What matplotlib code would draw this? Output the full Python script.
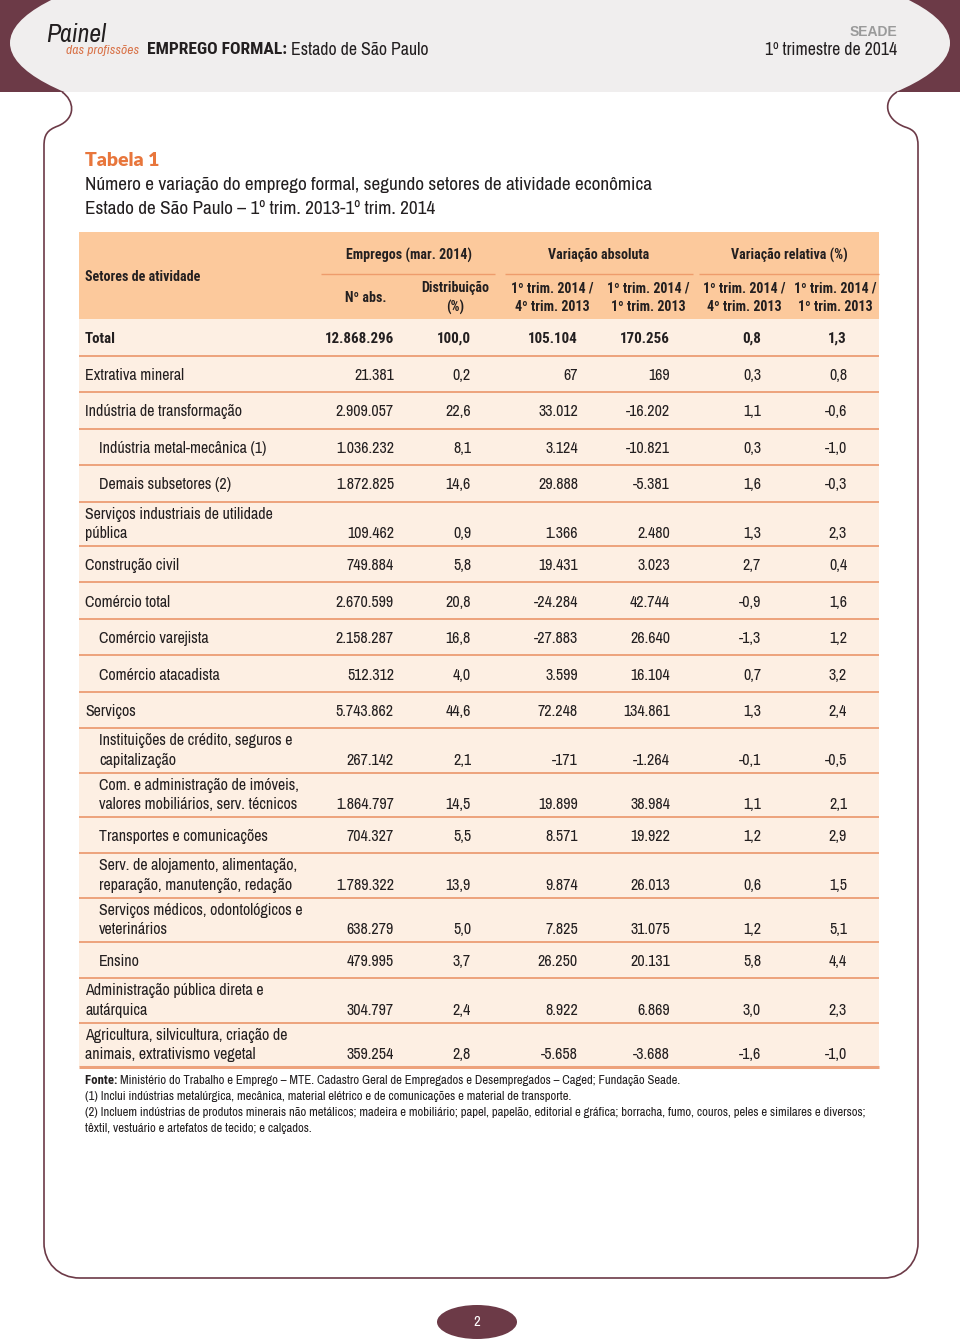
import matplotlib
matplotlib.use('Agg')
import matplotlib.pyplot as plt
from matplotlib.patches import Rectangle, Ellipse, PathPatch
from matplotlib.path import Path

# ---------------- data ----------------
sectors = [
    "Total",
    "Extrativa mineral",
    "Indústria de transformação",
    "Indústria metal-mecânica (1)",
    "Demais subsetores (2)",
    "Serviços industriais de utilidade\npública",
    "Construção civil",
    "Comércio total",
    "Comércio varejista",
    "Comércio atacadista",
    "Serviços",
    "Instituições de crédito, seguros e\ncapitalização",
    "Com. e administração de imóveis,\nvalores mobiliários, serv. técnicos",
    "Transportes e comunicações",
    "Serv. de alojamento, alimentação,\nreparação, manutenção, redação",
    "Serviços médicos, odontológicos e\nveterinários",
    "Ensino",
    "Administração pública direta e\nautárquica",
    "Agricultura, silvicultura, criação de\nanimais, extrativismo vegetal",
]
indent = [0, 0, 0, 1, 1, 0, 0, 0, 1, 1, 0, 1, 1, 1, 1, 1, 1, 0, 0]
n_abs = [12868296, 21381, 2909057, 1036232, 1872825, 109462, 749884, 2670599,
         2158287, 512312, 5743862, 267142, 1864797, 704327, 1789322, 638279,
         479995, 304797, 359254]
dist = [100.0, 0.2, 22.6, 8.1, 14.6, 0.9, 5.8, 20.8, 16.8, 4.0, 44.6, 2.1,
        14.5, 5.5, 13.9, 5.0, 3.7, 2.4, 2.8]
abs_4t = [105104, 67, 33012, 3124, 29888, 1366, 19431, -24284, -27883, 3599,
          72248, -171, 19899, 8571, 9874, 7825, 26250, 8922, -5658]
abs_1t = [170256, 169, -16202, -10821, -5381, 2480, 3023, 42744, 26640, 16104,
          134861, -1264, 38984, 19922, 26013, 31075, 20131, 6869, -3688]
rel_4t = [0.8, 0.3, 1.1, 0.3, 1.6, 1.3, 2.7, -0.9, -1.3, 0.7, 1.3, -0.1, 1.1,
          1.2, 0.6, 1.2, 5.8, 3.0, -1.6]
rel_1t = [1.3, 0.8, -0.6, -1.0, -0.3, 2.3, 0.4, 1.6, 1.2, 3.2, 2.4, -0.5, 2.1,
          2.9, 1.5, 5.1, 4.4, 2.3, -1.0]

group_headers = ["Empregos (mar. 2014)", "Variação absoluta", "Variação relativa (%)"]
sub_headers = ["Nº abs.", "Distribuição\n(%)", "1º trim. 2014 /\n4º trim. 2013",
               "1º trim. 2014 /\n1º trim. 2013", "1º trim. 2014 /\n4º trim. 2013",
               "1º trim. 2014 /\n1º trim. 2013"]
footnotes = [
    "(1) Inclui indústrias metalúrgica, mecânica, material elétrico e de comunicações e material de transporte.",
    "(2) Incluem indústrias de produtos minerais não metálicos; madeira e mobiliário; papel, papelão, editorial e gráfica; borracha, fumo, couros, peles e similares e diversos;",
    "têxtil, vestuário e artefatos de tecido; e calçados.",
]

# ---------------- style ----------------
NARROW = ['Liberation Sans Narrow', 'Archivo Narrow', 'Liberation Sans', 'DejaVu Sans']
NARROW_B = ['Liberation Sans Narrow', 'Roboto Condensed', 'Barlow Semi Condensed',
            'Liberation Sans', 'DejaVu Sans']
MAROON = '#6c3a47'
TXT = '#231f20'
HEAD_BG = '#fcc99c'
BODY_BG = '#fdefe3'
LINE = '#eda27c'
ORANGE = '#e8763c'


def fmt_int(v):
    s = f"{abs(v):,}".replace(",", ".")
    return ("-" if v < 0 else "") + s


def fmt_dec(v):
    return f"{v:.1f}".replace(".", ",")


def txt(ax, x, y, s, size, bold=False, **kw):
    fam = NARROW_B if bold else NARROW
    kw.setdefault('color', TXT)
    kw.setdefault('va', 'center')
    kw.setdefault('ha', 'left')
    return ax.text(x, y, s, fontsize=size, family=fam,
                   weight='bold' if bold else 'normal', **kw)


fig = plt.figure(figsize=(9.6, 13.44), dpi=100)
ax = fig.add_axes([0, 0, 1, 1])
ax.set_xlim(0, 960)
ax.set_ylim(1344, 0)
ax.axis('off')

# ---------------- page header ----------------
band = Rectangle((0, 0), 960, 92, facecolor=MAROON, edgecolor='none', zorder=1)
ax.add_patch(band)
oval = Ellipse((480, 43), 940, 210, facecolor='#f0eeee', edgecolor='none', zorder=2)
ax.add_patch(oval)
oval.set_clip_path(band)

verts = [
    (62, 92),
    (74, 100), (77, 118), (58, 126),
    (47, 130), (44, 135), (44, 146),
    (44, 1243),
    (44, 1262), (58, 1278), (80, 1278),
    (884, 1278),
    (904, 1278), (918, 1262), (918, 1243),
    (918, 146),
    (918, 135), (915, 130), (905, 127),
    (884, 119), (883, 100), (897, 92),
]
codes = [Path.MOVETO,
         Path.CURVE4, Path.CURVE4, Path.CURVE4,
         Path.CURVE4, Path.CURVE4, Path.CURVE4,
         Path.LINETO,
         Path.CURVE4, Path.CURVE4, Path.CURVE4,
         Path.LINETO,
         Path.CURVE4, Path.CURVE4, Path.CURVE4,
         Path.LINETO,
         Path.CURVE4, Path.CURVE4, Path.CURVE4,
         Path.CURVE4, Path.CURVE4, Path.CURVE4]
ax.add_patch(PathPatch(Path(verts, codes), facecolor='none', edgecolor=MAROON,
                       lw=1.2, zorder=3))

ax.text(46, 35, "Painel", fontsize=18.5, style='italic', family=NARROW, color=TXT,
        va='center', ha='left', zorder=5)
ax.text(66, 50, "das profissões", fontsize=9.8, style='italic', family=NARROW,
        color='#d9744a', va='center', ha='left', zorder=5)
t1 = txt(ax, 147, 50, "EMPREGO FORMAL: ", 12.6, bold=True, zorder=5)
fig.canvas.draw()
bb = t1.get_window_extent()
txt(ax, bb.x1, 50, "Estado de São Paulo", 12.8, zorder=5)
ax.text(897, 32, "SEADE", fontsize=10, weight='bold', family=['Liberation Sans', 'DejaVu Sans'],
        color='#9a9a9a', va='center', ha='right', zorder=5)
txt(ax, 897, 50, "1º trimestre de 2014", 12.8, ha='right', zorder=5)

# ---------------- title ----------------
ax.text(85, 161, "Tabela 1", fontsize=14, weight='heavy', family=['Lato', 'DejaVu Sans'],
        color=ORANGE, va='center', ha='left')
txt(ax, 85, 185, "Número e variação do emprego formal, segundo setores de atividade econômica", 13.8)
txt(ax, 85, 209, "Estado de São Paulo – 1º trim. 2013-1º trim. 2014", 13.8)

# ---------------- table ----------------
X0, X1 = 79, 879
HTOP, HBOT = 232, 319
ax.add_patch(Rectangle((X0, HTOP), X1 - X0, HBOT - HTOP, facecolor=HEAD_BG,
                       edgecolor='none', zorder=1))

HFS = 10.1
txt(ax, 85, 277, "Setores de atividade", HFS, bold=True)
group_spans = [(321, 495), (505, 693), (699, 879)]
group_cx = [409, 599, 789]
for name, (a, b), cx in zip(group_headers, group_spans, group_cx):
    txt(ax, cx, 255, name, HFS, bold=True, ha='center')
    ax.plot([a, b], [273.5, 273.5], color='#ee9c6c', lw=1.0, solid_capstyle='butt')

sub_x = [366, 455, 552, 648, 744, 835]
for name, x in zip(sub_headers, sub_x):
    txt(ax, x, 298, name, HFS, bold=True, ha='center', linespacing=1.45)

row_h = [44.3 if "\n" in s else 36.5 for s in sectors]
tops = [HBOT]
for h in row_h:
    tops.append(tops[-1] + h)
BEND = tops[-1]
ax.add_patch(Rectangle((X0, HBOT), X1 - X0, BEND - HBOT, facecolor=BODY_BG,
                       edgecolor='none', zorder=0.5))

num_right = [394, 471, 578, 670, 761, 847]
FS = 11.5
for i, lab in enumerate(sectors):
    top, bot = tops[i], tops[i + 1]
    b = (i == 0)
    fs = 10.8 if b else FS
    lx = 99 if indent[i] else 85
    if "\n" in lab:
        l1, l2 = lab.split("\n")
        txt(ax, lx, top + 12.5, l1, fs, bold=b)
        ny = top + 32
        txt(ax, lx, ny, l2, fs, bold=b)
    else:
        ny = (top + bot) / 2 + 1.5
        txt(ax, lx, ny, lab, fs, bold=b)
    vals = [fmt_int(n_abs[i]), fmt_dec(dist[i]), fmt_int(abs_4t[i]),
            fmt_int(abs_1t[i]), fmt_dec(rel_4t[i]), fmt_dec(rel_1t[i])]
    for v, x in zip(vals, num_right):
        txt(ax, x, ny, v, fs, bold=b, ha='right')
    lw = 2.2 if i == len(sectors) - 1 else 1.4
    ax.plot([X0, X1], [bot, bot], color=LINE, lw=lw, solid_capstyle='butt', zorder=2)

# ---------------- footnotes ----------------
FFS = 9.15
tf = txt(ax, 85, 1080, "Fonte: ", FFS, bold=True)
fig.canvas.draw()
bb = tf.get_window_extent()
txt(ax, bb.x1, 1080, "Ministério do Trabalho e Emprego – MTE. Cadastro Geral de Empregados e "
    "Desempregados – Caged; Fundação Seade.", FFS)
for k, line in enumerate(footnotes):
    txt(ax, 85, 1096 + 16.3 * k, line, FFS)

# ---------------- page number ----------------
ax.add_patch(Ellipse((477, 1322), 80, 34, facecolor=MAROON, edgecolor='none'))
txt(ax, 477, 1322, "2", 10.5, color='white', ha='center')

fig.savefig('out.png', dpi=100, facecolor='white')
